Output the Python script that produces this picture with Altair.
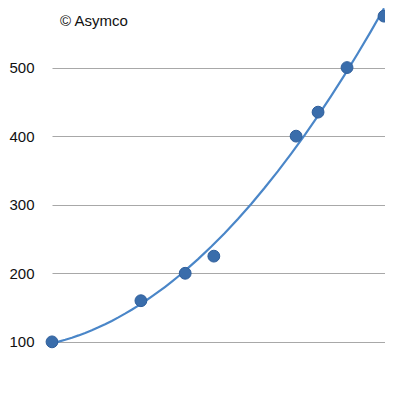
import altair as alt
import pandas as pd

# x positions (relative time units) and values (millions)
x_vals = [0, 26.7, 40.0, 48.6, 73.3, 79.9, 88.6, 99.7]
y_vals = [100, 160, 200, 225, 400, 435, 500, 575]
y_ticks = [100, 200, 300, 400, 500, 600]
note = "© Asymco"

df = pd.DataFrame({"x": x_vals, "y": y_vals})

xs = alt.Scale(domain=[0, 100], nice=False, zero=False)
ys = alt.Scale(domain=[40, 600], nice=False, zero=False)

base = alt.Chart(df)

trend = base.transform_regression("x", "y", method="poly", order=2).mark_line(
    color="#4a86c8", strokeWidth=2.2, clip=False
).encode(
    x=alt.X("x:Q", scale=xs, axis=None),
    y=alt.Y("y:Q", scale=ys,
            axis=alt.Axis(values=y_ticks, grid=True, gridColor="#a8a8a8", gridWidth=1.2,
                          domain=False, ticks=False, labelPadding=18,
                          labelFont="Liberation Sans", labelFontSize=15, labelColor="#111",
                          title=None)),
)

pts = base.mark_circle(size=140, color="#3a6dab", opacity=1, stroke="#2f5f9c", strokeWidth=1).encode(
    x=alt.X("x:Q", scale=xs),
    y=alt.Y("y:Q", scale=ys),
)

txt = alt.Chart(pd.DataFrame({"t": [note]})).mark_text(
    align="left", baseline="middle", font="Liberation Sans", fontSize=15, color="#111"
).encode(x=alt.value(8), y=alt.value(22), text="t:N")

chart = alt.layer(trend, pts, txt).properties(
    width=333, height=384,
    autosize=alt.AutoSizeParams(type="none"),
    padding={"left": 44, "top": -9, "right": 0, "bottom": 0},
).configure_view(stroke=None)

chart.save("out.html", embed_options={"renderer": "svg", "actions": False})
